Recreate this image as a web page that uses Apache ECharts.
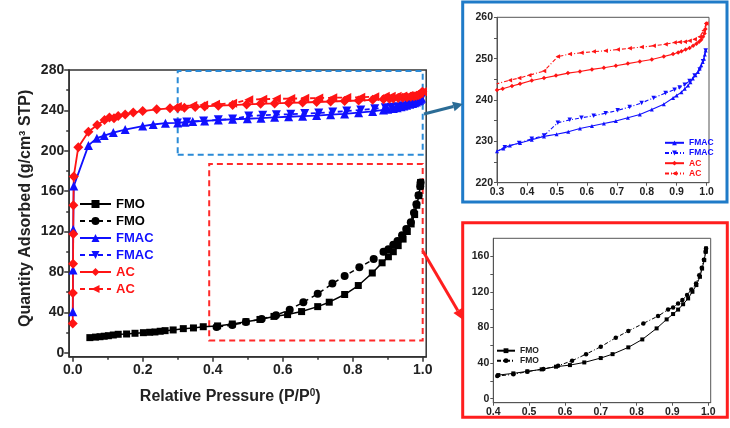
<!DOCTYPE html>
<html>
<head>
<meta charset="utf-8">
<script src="https://cdn.jsdelivr.net/npm/echarts@6.0.0/dist/echarts.min.js"></script>
<style>
    html, body { margin: 0; padding: 0; background: #fff; }
    #main { width: 730px; height: 428px; }
</style>
</head>
<body>
<div id="main"></div>
<script>
// ---- data (P/P0, quantity adsorbed) ----
var fmoAdsLow = [[0.049,14.9],[0.065,15.4],[0.078,15.8],[0.09,16.3],[0.102,16.8],[0.116,17.5],[0.13,18.2],[0.154,18.5],[0.178,19.2],[0.202,19.8],[0.22,20.2],[0.235,20.5],[0.25,21.2],[0.264,21.8],[0.287,22.5],[0.316,23.8],[0.345,24.5],[0.373,25.7]];
var fmoAdsHigh = [[0.414,26.5],[0.456,28.4],[0.495,30.7],[0.535,32.9],[0.575,35.9],[0.614,37.7],[0.654,40.7],[0.7,45.6],[0.733,50],[0.777,57.6],[0.816,66.5],[0.856,78.9],[0.884,89],[0.902,95],[0.916,100],[0.93,106],[0.944,112.5],[0.956,120],[0.967,127.5],[0.977,136.8],[0.983,146],[0.989,155.5],[0.993,164.9],[0.994,168.6]];
var fmoDes = [[0.994,168.6],[0.993,164.9],[0.988,156],[0.982,147],[0.975,138.5],[0.966,129.3],[0.953,122.6],[0.941,116.3],[0.928,110.7],[0.916,106.9],[0.902,102.4],[0.888,100],[0.86,92.7],[0.819,84.5],[0.777,75.9],[0.742,68.4],[0.7,58.3],[0.659,50],[0.62,42.6],[0.581,37],[0.54,33.3],[0.495,30.3],[0.456,27.3],[0.411,25.4]];

var fmacAdsLow = [[0.0003,40.6],[0.0008,82],[0.0015,122],[0.003,165],[0.045,205.3],[0.069,212.5],[0.09,215],[0.116,218],[0.15,221],[0.2,224.5],[0.23,226],[0.265,227.3]];
var fmacAdsHigh = [[0.3,227.6],[0.321,228.3],[0.343,229.0],[0.377,229.6],[0.416,230.4],[0.457,231.2],[0.499,231.7],[0.538,232.3],[0.577,233.1],[0.617,233.7],[0.657,234.3],[0.697,234.9],[0.737,235.7],[0.777,236.5],[0.817,237.7],[0.857,239.0],[0.888,240.5],[0.9,241.1],[0.916,241.9],[0.927,242.7],[0.938,243.5],[0.946,244.3],[0.954,245.2],[0.963,246.0],[0.971,246.8],[0.977,247.6],[0.982,248.4],[0.987,249.2],[0.991,250],[0.994,251],[0.997,252]];
var fmacDes = [[0.997,252],[0.988,249.4],[0.977,247.4],[0.96,245.9],[0.943,244.6],[0.927,243.7],[0.91,243.0],[0.893,242.5],[0.863,241.7],[0.823,240.5],[0.783,239.3],[0.743,238.3],[0.703,237.5],[0.663,236.8],[0.623,236.2],[0.582,235.7],[0.543,235.2],[0.503,234.5],[0.457,231.4],[0.416,230.6],[0.374,229.6],[0.326,228.6],[0.299,227.6]];

var acAdsLow = [[0.0002,29],[0.0005,59],[0.001,88],[0.0015,117.5],[0.002,146],[0.003,174.5],[0.016,203.5],[0.045,218.8],[0.07,225.6],[0.091,230.5],[0.105,233],[0.118,232.2],[0.13,234.4],[0.15,236],[0.173,238],[0.2,239.3],[0.24,241],[0.278,242]];
var acAdsHigh = [[0.3,242.4],[0.319,242.7],[0.35,243.4],[0.377,243.9],[0.416,244.7],[0.457,245.3],[0.497,245.9],[0.537,246.5],[0.577,246.9],[0.617,247.4],[0.657,247.8],[0.697,248.3],[0.737,248.8],[0.777,249.3],[0.817,249.8],[0.857,250.5],[0.888,251.1],[0.905,251.5],[0.916,251.8],[0.93,252.2],[0.943,252.6],[0.955,253.1],[0.966,253.6],[0.975,254.1],[0.982,254.6],[0.988,255.3],[0.993,256.1],[0.996,257.2],[0.999,258.5]];
var acDes = [[0.999,258.5],[0.99,256.8],[0.977,255.3],[0.96,254.7],[0.943,254.3],[0.927,254.1],[0.91,254.0],[0.893,253.9],[0.863,253.5],[0.823,253.1],[0.783,252.8],[0.743,252.5],[0.703,252.2],[0.663,251.9],[0.623,251.7],[0.582,251.4],[0.543,251.1],[0.503,250.5],[0.457,247.0],[0.408,246.0],[0.374,245.3],[0.343,244.8],[0.299,243.9]];

// ---- ticks ----
var mainXTicks = [0, 0.2, 0.4, 0.6, 0.8, 1.0];
var mainXMinor = [0.1, 0.3, 0.5, 0.7, 0.9];
var mainYTicks = [0, 40, 80, 120, 160, 200, 240, 280];
var mainYMinor = [20, 60, 100, 140, 180, 220, 260];
var in1XTicks = [0.3, 0.4, 0.5, 0.6, 0.7, 0.8, 0.9, 1.0];
var in1YTicks = [220, 230, 240, 250, 260];
var in1YMinor = [220, 225, 230, 235, 240, 245, 250, 255, 260];
var in2XTicks = [0.4, 0.5, 0.6, 0.7, 0.8, 0.9, 1.0];
var in2YTicks = [0, 40, 80, 120, 160];
var in2YMinor = [0, 20, 40, 60, 80, 100, 120, 140, 160];

var BLACK = '#000000', BLUE = '#1010ff', RED = '#ff1414';
var FONT = 'Liberation Sans, Arial, sans-serif';

var myChart = echarts.init(document.getElementById('main'));

function fmt1(v) { return (+v).toFixed(1); }

// 箭头：直线 + 三角形
function arrow(x1, y1, x2, y2, color, w, hl, hw) {
    var dx = x2 - x1, dy = y2 - y1, L = Math.sqrt(dx * dx + dy * dy);
    var ux = dx / L, uy = dy / L;
    var bx = x2 - ux * hl, by = y2 - uy * hl;
    return [
        { type: 'line', shape: { x1: x1, y1: y1, x2: bx, y2: by }, style: { stroke: color, lineWidth: w } },
        { type: 'polygon', shape: { points: [[x2, y2], [bx - uy * hw, by + ux * hw], [bx + uy * hw, by - ux * hw]] }, style: { fill: color } }
    ];
}

function mainAxisX(extra) {
    return Object.assign({
        type: 'value', gridIndex: 0, min: -0.01, max: 1.01, position: 'bottom',
        splitLine: { show: false }
    }, extra);
}

var tickStyle = { color: '#333', width: 1.5 };
var legendFmt = function (n) { return n.split('|')[0]; };
var dashDot = [4, 2, 1, 2];

var option = {
    backgroundColor: '#fff',
    animation: false,
    textStyle: { fontFamily: FONT },
    grid: [
        { left: 69.2, top: 70, width: 357, height: 286.7, show: true, borderColor: '#333', borderWidth: 1.5 },
        { left: 497, top: 17.3, width: 212, height: 165.4, show: true, borderColor: '#555', borderWidth: 1 },
        { left: 493.3, top: 238.3, width: 217.4, height: 164.4, show: true, borderColor: '#555', borderWidth: 1 }
    ],
    xAxis: [
        mainAxisX({
            axisLine: { onZero: false, lineStyle: tickStyle },
            axisTick: { length: 5, customValues: mainXTicks, lineStyle: tickStyle },
            axisLabel: { customValues: mainXTicks, formatter: fmt1, fontSize: 14, fontWeight: 'bold', color: '#222', margin: 6, fontFamily: FONT },
            name: '{a|Relative Pressure (P/P}{s|0}{a|)}',
            nameLocation: 'middle', nameGap: 32,
            nameTextStyle: {
                padding: [0, 35, 0, 0],
                rich: {
                    a: { fontSize: 16, fontWeight: 'bold', color: '#222', fontFamily: FONT },
                    s: { fontSize: 10, fontWeight: 'bold', color: '#222', verticalAlign: 'top', fontFamily: FONT }
                }
            }
        }),
        mainAxisX({
            axisLine: { show: false, onZero: false },
            axisTick: { length: 3, customValues: mainXMinor, lineStyle: tickStyle },
            axisLabel: { show: false }
        }),
        {
            type: 'value', gridIndex: 1, min: 0.3, max: 1.008, splitLine: { show: false },
            axisLine: { onZero: false, lineStyle: { color: '#555', width: 1 } },
            axisTick: { length: 3, customValues: in1XTicks, lineStyle: { color: '#555' } },
            axisLabel: { customValues: in1XTicks, formatter: fmt1, fontSize: 10.5, fontWeight: 'bold', color: '#222', margin: 4, fontFamily: FONT }
        },
        {
            type: 'value', gridIndex: 2, min: 0.4, max: 1.007, splitLine: { show: false },
            axisLine: { onZero: false, lineStyle: { color: '#555', width: 1 } },
            axisTick: { length: 3, customValues: in2XTicks, lineStyle: { color: '#555' } },
            axisLabel: { customValues: in2XTicks, formatter: fmt1, fontSize: 10.5, fontWeight: 'bold', color: '#222', margin: 4, fontFamily: FONT }
        }
    ],
    yAxis: [
        {
            type: 'value', gridIndex: 0, min: -4, max: 280, position: 'left', splitLine: { show: false },
            axisLine: { show: true, onZero: false, lineStyle: tickStyle },
            axisTick: { show: true, length: 5, customValues: mainYTicks, lineStyle: tickStyle },
            axisLabel: { customValues: mainYTicks, fontSize: 14, fontWeight: 'bold', color: '#222', margin: 5, fontFamily: FONT },
            name: 'Quantity Adsorbed (g/cm³ STP)',
            nameLocation: 'middle', nameGap: 36,
            nameTextStyle: { fontSize: 16, fontWeight: 'bold', color: '#222', fontFamily: FONT, padding: [0, 0, 0, 10] }
        },
        {
            type: 'value', gridIndex: 0, min: -4, max: 280, position: 'left', splitLine: { show: false },
            axisLine: { show: false, onZero: false },
            axisTick: { show: true, length: 3, customValues: mainYMinor, lineStyle: tickStyle },
            axisLabel: { show: false }
        },
        {
            type: 'value', gridIndex: 1, min: 220, max: 260, splitLine: { show: false },
            axisLine: { show: true, onZero: false, lineStyle: { color: '#555', width: 1 } },
            axisTick: { show: true, length: 3, customValues: in1YMinor, lineStyle: { color: '#555' } },
            axisLabel: { customValues: in1YTicks, fontSize: 10.5, fontWeight: 'bold', color: '#222', margin: 4, fontFamily: FONT }
        },
        {
            type: 'value', gridIndex: 2, min: -4.5, max: 180, splitLine: { show: false },
            axisLine: { show: true, onZero: false, lineStyle: { color: '#555', width: 1 } },
            axisTick: { show: true, length: 3, customValues: in2YMinor, lineStyle: { color: '#555' } },
            axisLabel: { customValues: in2YTicks, fontSize: 10.5, fontWeight: 'bold', color: '#222', margin: 4, fontFamily: FONT }
        }
    ],
    legend: [
        {
            orient: 'vertical', left: 79, top: 195.5, padding: 0, itemWidth: 31, itemHeight: 10, itemGap: 0,
            selectedMode: false, formatter: legendFmt,
            textStyle: { fontSize: 13, fontWeight: 'bold', lineHeight: 17, fontFamily: FONT },
            data: [
                { name: 'FMO|a', textStyle: { color: BLACK } },
                { name: 'FMO|d', textStyle: { color: BLACK } },
                { name: 'FMAC|a', textStyle: { color: BLUE } },
                { name: 'FMAC|d', textStyle: { color: BLUE } },
                { name: 'AC|a', textStyle: { color: RED } },
                { name: 'AC|d', textStyle: { color: RED } }
            ]
        },
        {
            orient: 'vertical', left: 664, top: 137.7, padding: 0, itemWidth: 19, itemHeight: 6, itemGap: 0,
            selectedMode: false, formatter: legendFmt,
            textStyle: { fontSize: 8.5, fontWeight: 'bold', lineHeight: 10.2, fontFamily: FONT },
            data: [
                { name: 'FMAC|a1', textStyle: { color: BLUE } },
                { name: 'FMAC|d1', textStyle: { color: BLUE } },
                { name: 'AC|a1', textStyle: { color: RED } },
                { name: 'AC|d1', textStyle: { color: RED } }
            ]
        },
        {
            orient: 'vertical', left: 496, top: 345.7, padding: 0, itemWidth: 18, itemHeight: 6, itemGap: 0,
            selectedMode: false, formatter: legendFmt,
            textStyle: { fontSize: 8.5, fontWeight: 'bold', lineHeight: 10, fontFamily: FONT, color: '#222' },
            data: ['FMO|a2', 'FMO|d2']
        }
    ],
    series: [
        // 主图
        {
            name: 'FMO|a', type: 'line', xAxisIndex: 0, yAxisIndex: 0,
            data: fmoAdsLow.concat(fmoAdsHigh), symbol: 'rect', symbolSize: 7,
            itemStyle: { color: BLACK }, lineStyle: { color: BLACK, width: 1.5 },
            markArea: {
                silent: true,
                label: { show: false },
                itemStyle: { color: 'rgba(0,0,0,0)', borderWidth: 2, borderType: [6, 4] },
                data: [
                    [{ coord: [0.3, 196], itemStyle: { color: 'rgba(0,0,0,0)', borderColor: '#2a8ad6', borderWidth: 2, borderType: [6, 4] } }, { coord: [1.0, 279] }],
                    [{ coord: [0.39, 12], itemStyle: { color: 'rgba(0,0,0,0)', borderColor: '#ff2a2a', borderWidth: 2, borderType: [6, 4] } }, { coord: [1.0, 187] }]
                ]
            }
        },
        {
            name: 'FMO|d', type: 'line', xAxisIndex: 0, yAxisIndex: 0,
            data: fmoDes, symbol: 'circle', symbolSize: 8,
            itemStyle: { color: BLACK }, lineStyle: { color: BLACK, width: 1.5, type: [5, 4] }
        },
        {
            name: 'FMAC|a', type: 'line', xAxisIndex: 0, yAxisIndex: 0,
            data: fmacAdsLow.concat(fmacAdsHigh), symbol: 'triangle', symbolSize: 9,
            itemStyle: { color: BLUE }, lineStyle: { color: BLUE, width: 1.8 }
        },
        {
            name: 'FMAC|d', type: 'line', xAxisIndex: 0, yAxisIndex: 0,
            data: fmacDes, symbol: 'triangle', symbolRotate: 180, symbolSize: 9,
            itemStyle: { color: BLUE }, lineStyle: { color: BLUE, width: 1.8, type: [5, 4] }
        },
        {
            name: 'AC|a', type: 'line', xAxisIndex: 0, yAxisIndex: 0,
            data: acAdsLow.concat(acAdsHigh), symbol: 'diamond', symbolSize: 10,
            itemStyle: { color: RED }, lineStyle: { color: RED, width: 1.8 }
        },
        {
            name: 'AC|d', type: 'line', xAxisIndex: 0, yAxisIndex: 0,
            data: acDes, symbol: 'triangle', symbolRotate: 90, symbolSize: 9,
            itemStyle: { color: RED }, lineStyle: { color: RED, width: 1.8, type: [5, 4] }
        },
        // 右上插图
        {
            name: 'FMAC|a1', type: 'line', xAxisIndex: 2, yAxisIndex: 2,
            data: fmacAdsHigh, symbol: 'triangle', symbolSize: 4,
            itemStyle: { color: BLUE }, lineStyle: { color: BLUE, width: 1.1 }
        },
        {
            name: 'FMAC|d1', type: 'line', xAxisIndex: 2, yAxisIndex: 2,
            data: fmacDes, symbol: 'triangle', symbolRotate: 180, symbolSize: 4.5,
            itemStyle: { color: BLUE }, lineStyle: { color: BLUE, width: 1.1, type: dashDot }
        },
        {
            name: 'AC|a1', type: 'line', xAxisIndex: 2, yAxisIndex: 2,
            data: acAdsHigh, symbol: 'diamond', symbolSize: 4.5,
            itemStyle: { color: RED }, lineStyle: { color: RED, width: 1.1 }
        },
        {
            name: 'AC|d1', type: 'line', xAxisIndex: 2, yAxisIndex: 2,
            data: acDes, symbol: 'triangle', symbolRotate: 90, symbolSize: 4.5,
            itemStyle: { color: RED }, lineStyle: { color: RED, width: 1.1, type: dashDot }
        },
        // 右下插图
        {
            name: 'FMO|a2', type: 'line', xAxisIndex: 3, yAxisIndex: 3,
            data: fmoAdsHigh, symbol: 'rect', symbolSize: 4,
            itemStyle: { color: BLACK }, lineStyle: { color: BLACK, width: 1 }
        },
        {
            name: 'FMO|d2', type: 'line', xAxisIndex: 3, yAxisIndex: 3,
            data: fmoDes, symbol: 'circle', symbolSize: 4.5,
            itemStyle: { color: BLACK }, lineStyle: { color: BLACK, width: 1, type: dashDot }
        }
    ],
    graphic: [
        { type: 'rect', shape: { x: 462.7, y: 2, width: 264.3, height: 200 }, style: { fill: null, stroke: '#1f7bc8', lineWidth: 3 } },
        { type: 'rect', shape: { x: 462.7, y: 222.7, width: 264.6, height: 194.6 }, style: { fill: null, stroke: '#ff1e1e', lineWidth: 3 } }
    ].concat(arrow(424, 114, 463, 104, '#2b6c96', 3, 10, 5))
     .concat(arrow(422.7, 250.7, 463.3, 320, '#ff1e1e', 3, 11, 5))
};

myChart.setOption(option);
</script>
</body>
</html>
